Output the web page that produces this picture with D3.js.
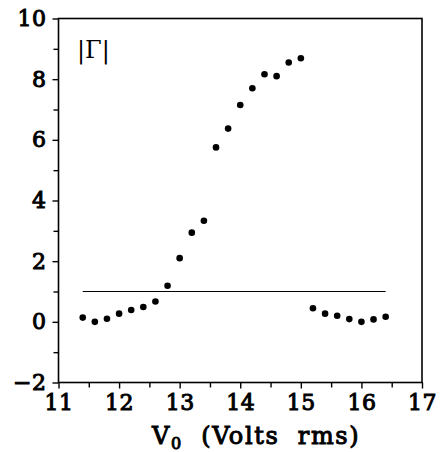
<!DOCTYPE html>
<html>
<head>
<meta charset="utf-8">
<script src="https://cdn.jsdelivr.net/npm/d3@7"></script>
<style>
  html, body { margin: 0; padding: 0; background: #fff; }
  svg text { fill: #000; }
  .tick-label { font-family: "DejaVu Serif", serif; font-size: 22px; stroke: #000; stroke-width: 1px; letter-spacing: 0.5px; }
  .axis-title { font-family: "DejaVu Serif", serif; font-size: 24px; stroke: #000; stroke-width: 1px; letter-spacing: 1.6px; }
</style>
</head>
<body>
<svg id="chart" width="441" height="452"></svg>
<script>
const voltsLow   = [ 11.4, 11.6, 11.8, 12.0, 12.2, 12.4, 12.6, 12.8, 13.0, 13.2, 13.4, 13.6, 13.8, 14.0, 14.2, 14.4, 14.6, 14.8, 15.0 ];
const gammaLow   = [ 0.14, 0.00, 0.10, 0.27, 0.39, 0.49, 0.67, 1.19, 2.10, 2.94, 3.33, 5.75, 6.37, 7.15, 7.70, 8.16, 8.10, 8.55, 8.69 ];
const voltsHigh  = [ 15.2, 15.4, 15.6, 15.8, 16.0, 16.2, 16.4 ];
const gammaHigh  = [ 0.45, 0.27, 0.20, 0.09, 0.00, 0.08, 0.17 ];
// Reference line |Gamma| = 1.
const refLineX   = [ 11.4, 16.4 ];
const refLineY   = 1;
const xTicks     = [ 11, 12, 13, 14, 15, 16, 17 ];
const xMinor     = [ 11.5, 12.5, 13.5, 14.5, 15.5, 16.5 ];
const yTicks     = [ -2, 0, 2, 4, 6, 8, 10 ];
const yMinor     = [ -1, 1, 3, 5, 7, 9 ];

const margin = { top: 18.5, left: 58.5, right: 19, bottom: 69.5 };
const width  = 441, height = 452;

const svg = d3.select( '#chart' );

const x = d3.scaleLinear().domain( [ 11, 17 ] ).range( [ margin.left, width - margin.right ] );
const y = d3.scaleLinear().domain( [ -2, 10 ] ).range( [ height - margin.bottom, margin.top ] );

// frame
svg.append( 'rect' )
  .attr( 'x', x( 11 ) ).attr( 'y', y( 10 ) )
  .attr( 'width', x( 17 ) - x( 11 ) ).attr( 'height', y( -2 ) - y( 10 ) )
  .attr( 'fill', 'none' ).attr( 'stroke', '#000' ).attr( 'stroke-width', 1.6 );

// bottom axis: major + minor ticks, outward
const xAxis = svg.append( 'g' ).attr( 'transform', `translate(0,${y( -2 )})` );
xAxis.call( d3.axisBottom( x ).tickValues( xTicks ).tickSize( 6 ).tickFormat( d3.format( 'd' ) ).tickPadding( 6 ) );
xAxis.append( 'g' ).call( d3.axisBottom( x ).tickValues( xMinor ).tickSize( 5 ).tickFormat( '' ) );
xAxis.selectAll( '.domain' ).remove();
xAxis.selectAll( 'line' ).attr( 'stroke-width', 1.4 );
xAxis.selectAll( 'text' ).attr( 'class', 'tick-label' ).attr( 'font-size', null ).attr( 'font-family', null );

// left axis
const yAxis = svg.append( 'g' ).attr( 'transform', `translate(${x( 11 )},0)` );
yAxis.call( d3.axisLeft( y ).tickValues( yTicks ).tickSize( 6 ).tickPadding( 6 )
  .tickFormat( d => d < 0 ? '\u2212' + Math.abs( d ) : d ) );
yAxis.append( 'g' ).call( d3.axisLeft( y ).tickValues( yMinor ).tickSize( 5 ).tickFormat( '' ) );
yAxis.selectAll( '.domain' ).remove();
yAxis.selectAll( 'line' ).attr( 'stroke-width', 1.4 );
yAxis.selectAll( 'text' ).attr( 'class', 'tick-label' ).attr( 'font-size', null ).attr( 'font-family', null );

// reference line
svg.append( 'line' )
  .attr( 'x1', x( refLineX[0] ) ).attr( 'x2', x( refLineX[1] ) )
  .attr( 'y1', y( refLineY ) ).attr( 'y2', y( refLineY ) )
  .attr( 'stroke', '#000' ).attr( 'stroke-width', 1.2 );

// points
const pts = voltsLow.map( ( v, i ) => [ v, gammaLow[i] ] )
  .concat( voltsHigh.map( ( v, i ) => [ v, gammaHigh[i] ] ) );
svg.append( 'g' ).selectAll( 'circle' )
  .data( pts ).enter().append( 'circle' )
    .attr( 'cx', d => x( d[0] ) )
    .attr( 'cy', d => y( d[1] ) )
    .attr( 'r', 3.3 )
    .attr( 'fill', '#000' );

// in-plot label
svg.append( 'text' )
  .attr( 'x', 77 ).attr( 'y', 58 )
  .attr( 'font-family', '"DejaVu Serif", serif' )
  .attr( 'font-size', 24 )
  .text( '|\u0393|' );

// x title
const title = svg.append( 'text' )
  .attr( 'class', 'axis-title' )
  .attr( 'x', 152 ).attr( 'y', 444 );
title.append( 'tspan' ).text( 'V' );
title.append( 'tspan' ).attr( 'dy', 5 ).attr( 'font-size', 16 ).text( '0' );
title.append( 'tspan' ).attr( 'dy', -5 ).text( '\u00a0 (Volts\u00a0 rms)' );
</script>
</body>
</html>
